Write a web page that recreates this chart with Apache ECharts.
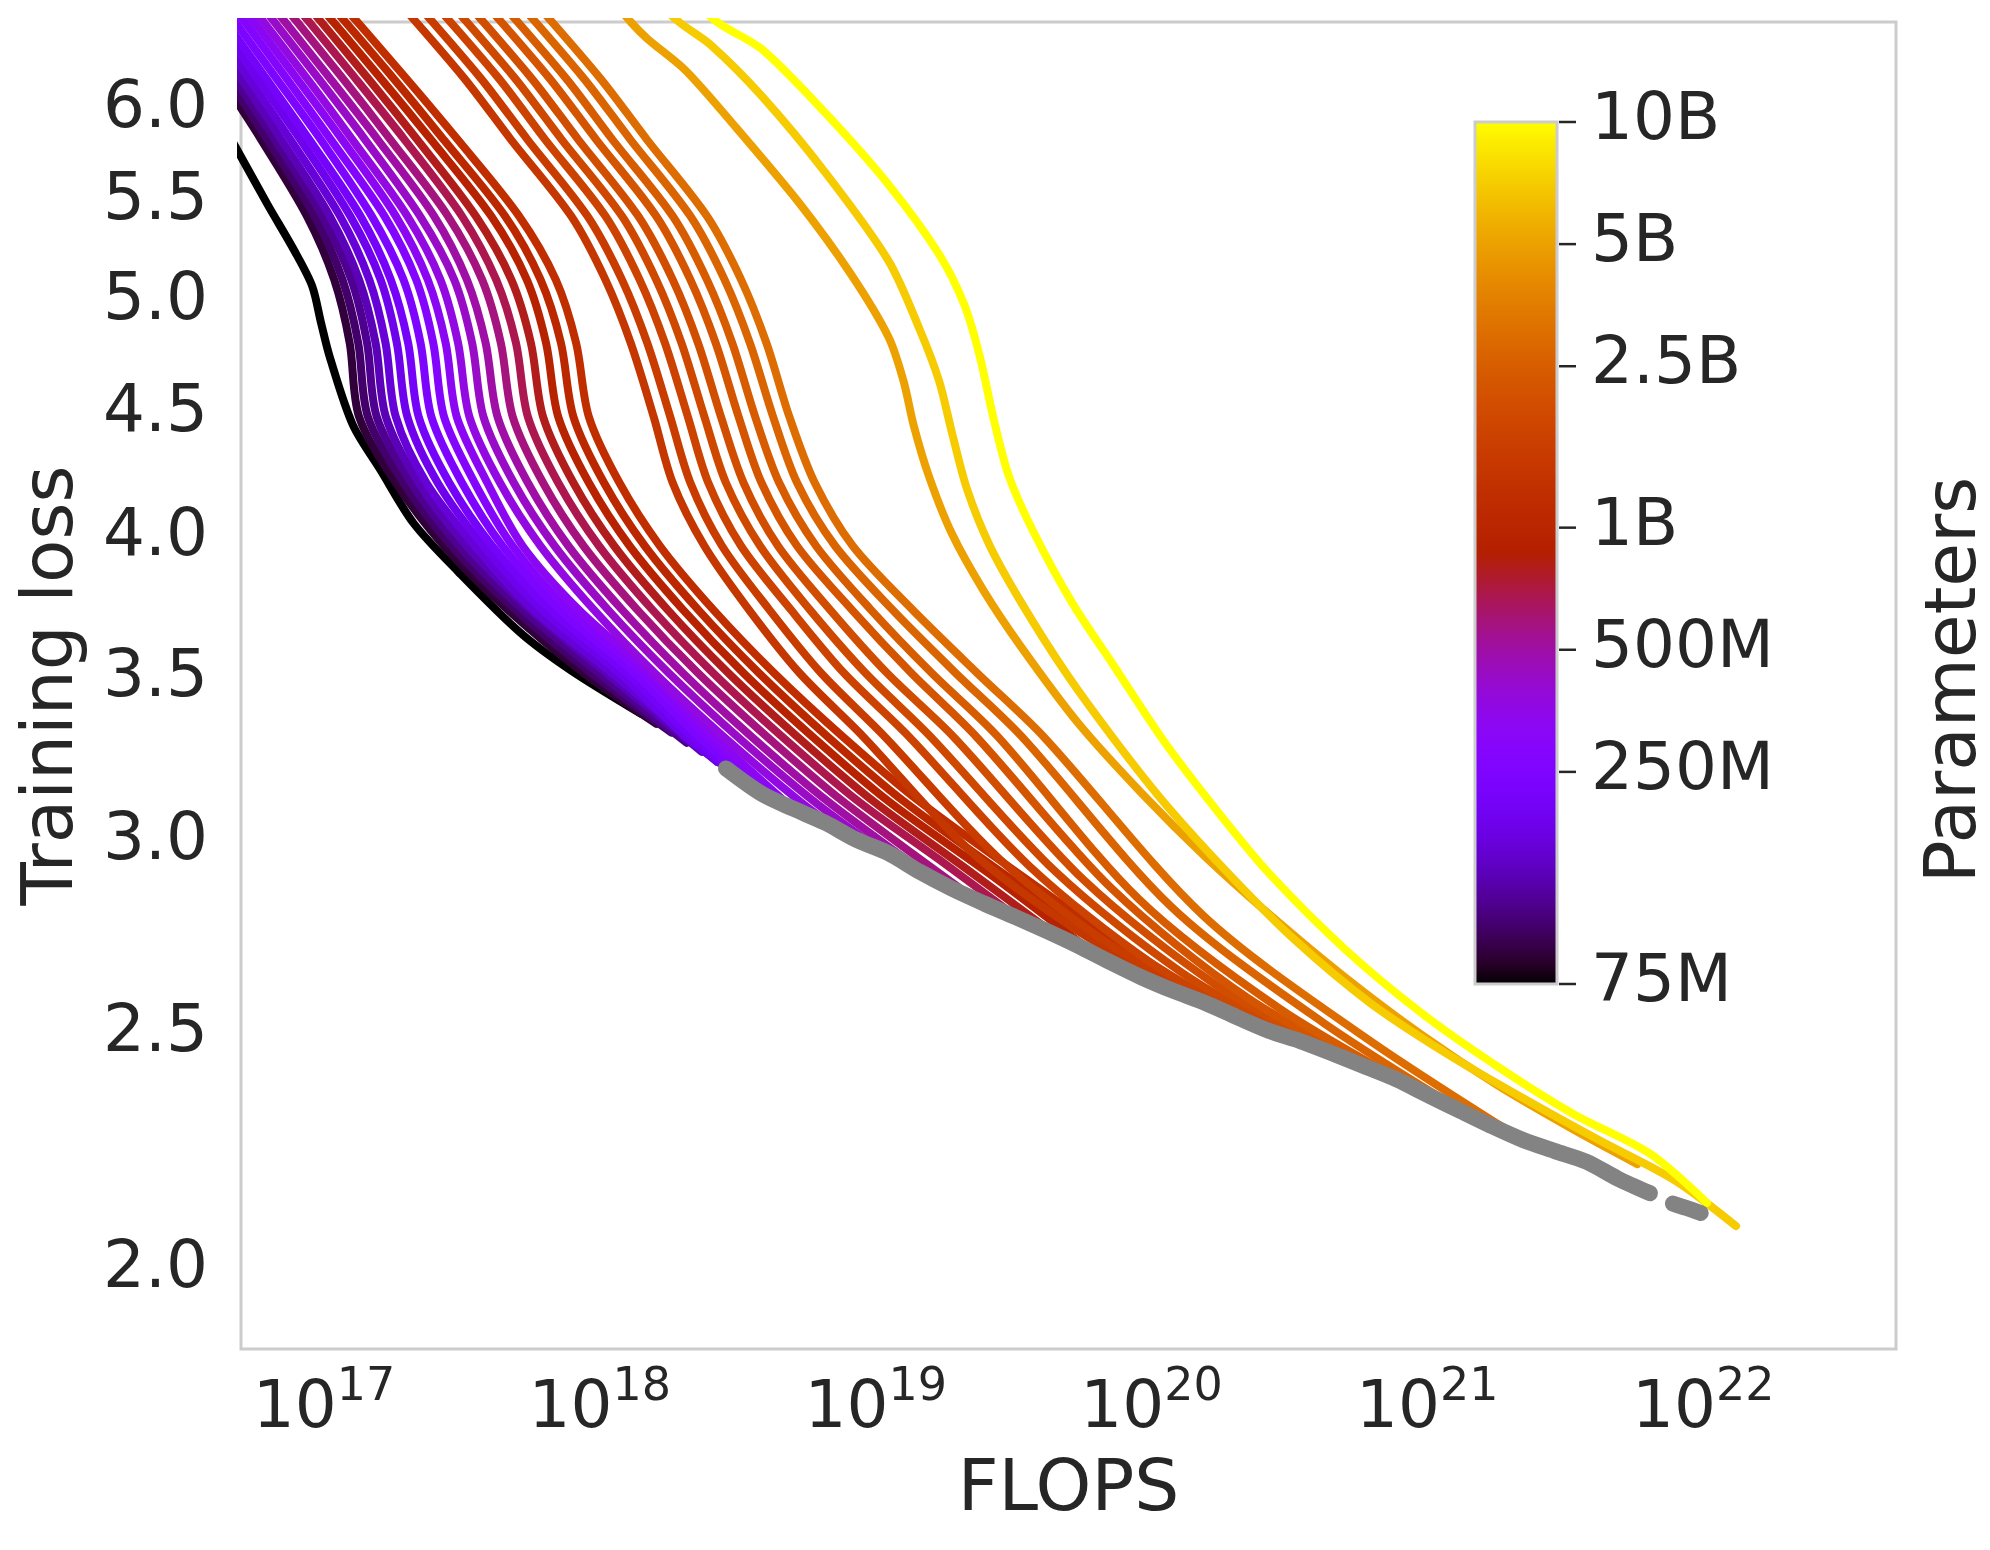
<!DOCTYPE html>
<html>
<head>
<meta charset="utf-8">
<title>Training loss vs FLOPS</title>
<script src="https://cdn.jsdelivr.net/npm/echarts@6/dist/echarts.min.js"></script>
</head>
<body style="margin:0;background:#fff">
<div id="chart" style="width:1990px;height:1550px"></div>
<script>
// parameter count of every run, smallest model first
const modelSizes = [75e6, 90e6, 105e6, 120e6, 140e6, 165e6, 190e6, 215e6, 245e6, 280e6, 320e6,
  370e6, 430e6, 500e6, 580e6, 680e6, 800e6, 920e6, 1050e6, 1200e6,
  1400e6, 1550e6, 1700e6, 1850e6, 2000e6, 2200e6, 2450e6, 2700e6, 3000e6,
  5000e6, 7000e6, 10000e6];

// training curves, points are [log10(FLOPs), training loss]
const r75M = [[16.538,6.19],[16.699,5.739],[16.796,5.483],[16.892,5.251],[16.957,5.077],[16.989,4.904],[17.021,4.746],[17.104,4.453],[17.205,4.265],[17.325,4.055],[17.486,3.874],[17.711,3.657],[17.895,3.528],[18.149,3.386]];
const r90M = [[16.386,6.82],[16.625,6.19],[16.773,5.83],[16.938,5.425],[17.037,5.108],[17.093,4.81],[17.127,4.486],[17.260,4.214],[17.435,3.969],[17.665,3.737],[17.941,3.519],[18.204,3.354]];
const r105M = [[16.405,6.82],[16.648,6.19],[16.796,5.83],[16.966,5.425],[17.067,5.108],[17.124,4.81],[17.159,4.486],[17.288,4.214],[17.463,3.969],[17.693,3.737],[17.969,3.519],[18.259,3.326]];
const r120M = [[16.423,6.82],[16.671,6.19],[16.823,5.83],[16.994,5.425],[17.099,5.108],[17.156,4.81],[17.191,4.486],[17.316,4.214],[17.490,3.969],[17.720,3.737],[17.997,3.519],[18.315,3.294]];
const r140M = [[16.441,6.82],[16.694,6.19],[16.846,5.83],[17.021,5.425],[17.127,5.108],[17.187,4.81],[17.224,4.486],[17.343,4.214],[17.518,3.969],[17.748,3.737],[18.024,3.519],[18.370,3.266]];
const r165M = [[16.464,6.82],[16.722,6.19],[16.879,5.83],[17.058,5.425],[17.164,5.108],[17.223,4.81],[17.260,4.486],[17.371,4.214],[17.546,3.969],[17.757,3.737],[18.043,3.519],[18.425,3.235]];
const r190M = [[16.492,6.82],[16.754,6.19],[16.915,5.83],[17.095,5.425],[17.205,5.108],[17.264,4.81],[17.302,4.486],[17.412,4.214],[17.578,3.969],[17.789,3.737],[18.071,3.519],[18.310,3.314],[18.480,3.204]];
const r215M = [[16.520,6.82],[16.786,6.19],[16.948,5.83],[17.132,5.425],[17.242,5.108],[17.305,4.81],[17.343,4.486],[17.454,4.214],[17.610,3.969],[17.821,3.737],[18.098,3.519],[18.333,3.314],[18.536,3.170]];
const r245M = [[16.552,6.82],[16.823,6.19],[16.989,5.83],[17.173,5.425],[17.288,5.108],[17.350,4.81],[17.389,4.486],[17.500,4.214],[17.647,3.969],[17.854,3.737],[18.126,3.519],[18.356,3.314],[18.591,3.139]];
const r280M = [[16.584,6.82],[16.860,6.19],[17.026,5.83],[17.219,5.425],[17.334,5.108],[17.396,4.81],[17.435,4.486],[17.546,4.214],[17.684,3.969],[17.886,3.737],[18.153,3.519],[18.384,3.314],[18.646,3.116]];
const r320M = [[16.616,6.82],[16.897,6.19],[17.067,5.83],[17.260,5.425],[17.376,5.108],[17.441,4.81],[17.481,4.486],[17.592,4.214],[17.720,3.969],[17.923,3.737],[18.181,3.519],[18.411,3.314],[18.701,3.094]];
const r370M = [[16.648,6.82],[16.934,6.19],[17.104,5.83],[17.302,5.425],[17.422,5.108],[17.486,4.81],[17.527,4.486],[17.638,4.214],[17.785,3.969],[17.978,3.737],[18.199,3.519],[18.448,3.314],[18.724,3.117],[18.862,3.035]];
const r430M = [[16.685,6.82],[16.975,6.19],[17.150,5.83],[17.348,5.425],[17.472,5.108],[17.537,4.81],[17.578,4.486],[17.688,4.214],[17.836,3.969],[18.029,3.737],[18.250,3.519],[18.498,3.314],[18.775,3.117],[19.000,2.985]];
const r500M = [[16.722,6.82],[17.017,6.19],[17.196,5.83],[17.399,5.425],[17.518,5.108],[17.586,4.81],[17.629,4.486],[17.739,4.214],[17.886,3.969],[18.080,3.737],[18.301,3.519],[18.549,3.314],[18.825,3.117],[19.170,2.917]];
const r580M = [[16.763,6.82],[17.063,6.19],[17.242,5.83],[17.449,5.425],[17.573,5.108],[17.641,4.81],[17.684,4.486],[17.794,4.214],[17.941,3.969],[18.135,3.737],[18.356,3.519],[18.605,3.314],[18.880,3.117],[19.341,2.851]];
const r680M = [[16.805,6.82],[17.109,6.19],[17.293,5.83],[17.500,5.425],[17.624,5.108],[17.696,4.81],[17.739,4.486],[17.849,4.214],[17.997,3.969],[18.190,3.737],[18.411,3.519],[18.660,3.314],[18.936,3.117],[19.230,2.949],[19.511,2.793]];
const r800M = [[16.846,6.82],[17.155,6.19],[17.339,5.83],[17.550,5.425],[17.679,5.108],[17.750,4.81],[17.794,4.486],[17.904,4.214],[18.052,3.969],[18.245,3.737],[18.466,3.519],[18.715,3.314],[18.991,3.117],[19.322,2.927],[19.663,2.740]];
const r920M = [[16.888,6.82],[17.201,6.19],[17.389,5.83],[17.606,5.425],[17.735,5.108],[17.805,4.81],[17.849,4.486],[17.960,4.214],[18.108,3.969],[18.301,3.737],[18.521,3.519],[18.770,3.314],[19.046,3.117],[19.437,2.896],[19.828,2.678]];
const r1050M = [[16.929,6.82],[17.247,6.19],[17.435,5.83],[17.656,5.425],[17.785,5.108],[17.859,4.81],[17.904,4.486],[18.015,4.214],[18.163,3.969],[18.356,3.737],[18.577,3.519],[18.825,3.314],[19.101,3.117],[19.552,2.862],[20.022,2.621]];
const r1200M = [[16.971,6.82],[17.293,6.19],[17.486,5.83],[17.707,5.425],[17.840,5.108],[17.914,4.81],[17.960,4.486],[18.071,4.214],[18.218,3.969],[18.411,3.737],[18.632,3.519],[18.880,3.314],[19.157,3.117],[19.667,2.831],[20.192,2.574]];
const r1400M = [[17.182,6.82],[17.504,6.19],[17.679,5.83],[17.896,5.425],[18.020,5.108],[18.112,4.81],[18.195,4.486],[18.264,4.214],[18.379,3.969],[18.540,3.737],[18.724,3.519],[18.954,3.314],[19.336,2.978],[19.723,2.761],[20.104,2.606]];
const r1550M = [[17.242,6.82],[17.564,6.19],[17.739,5.83],[17.955,5.425],[18.080,5.108],[18.172,4.81],[18.255,4.486],[18.328,4.214],[18.443,3.969],[18.614,3.737],[18.802,3.519],[19.032,3.314],[19.451,2.949],[19.870,2.711],[20.289,2.553]];
const r1700M = [[17.306,6.82],[17.629,6.19],[17.803,5.83],[18.020,5.425],[18.144,5.108],[18.236,4.81],[18.319,4.486],[18.393,4.214],[18.512,3.969],[18.692,3.737],[18.885,3.519],[19.120,3.314],[19.557,2.931],[19.990,2.678],[20.427,2.507]];
const r1850M = [[17.366,6.82],[17.688,6.19],[17.863,5.83],[18.080,5.425],[18.204,5.108],[18.296,4.81],[18.379,4.486],[18.457,4.214],[18.581,3.969],[18.761,3.737],[18.963,3.519],[19.198,3.314],[19.654,2.914],[20.109,2.650],[20.565,2.474]];
const r2000M = [[17.426,6.82],[17.748,6.19],[17.923,5.83],[18.139,5.425],[18.264,5.108],[18.356,4.81],[18.439,4.486],[18.521,4.214],[18.646,3.969],[18.834,3.737],[19.041,3.519],[19.281,3.314],[19.755,2.892],[20.229,2.621],[20.703,2.442]];
const r2200M = [[17.491,6.82],[17.813,6.19],[17.988,5.83],[18.204,5.425],[18.328,5.108],[18.420,4.81],[18.503,4.486],[18.586,4.214],[18.715,3.969],[18.913,3.737],[19.129,3.519],[19.364,3.314],[19.856,2.869],[20.348,2.587],[20.841,2.407]];
const r2450M = [[17.550,6.82],[17.873,6.19],[18.047,5.83],[18.264,5.425],[18.388,5.108],[18.480,4.81],[18.563,4.486],[18.650,4.214],[18.784,3.969],[18.982,3.737],[19.203,3.519],[19.442,3.314],[19.953,2.841],[20.468,2.559],[20.979,2.367]];
const r2700M = [[17.615,6.82],[17.937,6.19],[18.112,5.83],[18.328,5.425],[18.452,5.108],[18.544,4.81],[18.628,4.486],[18.715,4.214],[18.853,3.969],[19.060,3.737],[19.290,3.519],[19.529,3.314],[20.072,2.820],[20.620,2.528],[21.163,2.311]];
const r3000M = [[17.675,6.82],[17.997,6.19],[18.172,5.83],[18.388,5.425],[18.512,5.108],[18.604,4.81],[18.687,4.486],[18.779,4.214],[18.917,3.969],[19.133,3.737],[19.368,3.519],[19.608,3.314],[20.187,2.797],[20.767,2.495],[21.347,2.261]];
const r5B = [[17.988,6.776],[18.112,6.52],[18.172,6.418],[18.310,6.229],[18.494,5.899],[18.724,5.49],[18.908,5.139],[19.046,4.839],[19.101,4.64],[19.138,4.448],[19.193,4.24],[19.276,4.016],[19.391,3.805],[19.529,3.605],[19.736,3.354],[19.966,3.139],[20.196,2.956],[20.427,2.80],[20.703,2.637],[20.979,2.498],[21.255,2.381],[21.531,2.283],[21.761,2.21]];
const r7B = [[18.126,6.776],[18.287,6.52],[18.402,6.38],[18.586,6.08],[18.816,5.656],[19.046,5.201],[19.161,4.868],[19.230,4.64],[19.276,4.421],[19.331,4.189],[19.414,3.969],[19.529,3.76],[19.690,3.519],[19.874,3.294],[20.058,3.101],[20.288,2.903],[20.518,2.734],[20.794,2.574],[21.070,2.454],[21.346,2.353],[21.622,2.261],[21.898,2.176],[22.119,2.084]];
const r10B = [[18.264,6.776],[18.425,6.52],[18.586,6.356],[18.816,5.984],[19.046,5.59],[19.230,5.232],[19.322,4.986],[19.377,4.752],[19.428,4.475],[19.483,4.24],[19.575,4.016],[19.713,3.76],[19.865,3.541],[20.049,3.294],[20.243,3.083],[20.427,2.91],[20.703,2.708],[20.979,2.55],[21.255,2.424],[21.531,2.317],[21.807,2.232],[22.014,2.13]];

const runs = [r75M, r90M, r105M, r120M, r140M, r165M, r190M, r215M, r245M, r280M, r320M,
  r370M, r430M, r500M, r580M, r680M, r800M, r920M, r1050M, r1200M,
  r1400M, r1550M, r1700M, r1850M, r2000M, r2200M, r2450M, r2700M, r3000M,
  r5B, r7B, r10B];

// lowest loss reached for a given compute (grey dots), [log10(FLOPs), loss]
const envelope = [[18.457,3.215],[18.586,3.139],[18.700,3.095],[18.816,3.054],[18.93,3.005],[19.046,2.967],[19.16,2.915],[19.276,2.869],[19.39,2.83],[19.506,2.793],[19.62,2.756],[19.736,2.717],[19.85,2.676],[19.966,2.637],[20.08,2.604],[20.196,2.574],[20.31,2.54],[20.427,2.507],[20.54,2.483],[20.657,2.454],[20.77,2.425],[20.887,2.395],[21.0,2.36],[21.117,2.325],[21.23,2.292],[21.347,2.261],[21.46,2.238],[21.577,2.215],[21.69,2.18],[21.807,2.150]];
const envelopeTail = [[21.890,2.129],[21.94,2.12],[21.991,2.11]];

const lossTicks = [2.0, 2.5, 3.0, 3.5, 4.0, 4.5, 5.0, 5.5, 6.0];
const flopsTicks = [1e17, 1e18, 1e19, 1e20, 1e21, 1e22];
const sizeTicks = [75e6, 250e6, 500e6, 1e9, 2.5e9, 5e9, 10e9];
const sizeTickLabels = ['75M', '250M', '500M', '1B', '2.5B', '5B', '10B'];

const FONT = 'DejaVu Sans';
const INK = '#262626';
const cbMin = 75e6, cbMax = 10e9;

// matplotlib "gnuplot" colormap
function gnuplot(t) {
  const r = Math.sqrt(t), g = t * t * t, b = Math.max(0, Math.sin(2 * Math.PI * t));
  return 'rgb(' + [r, g, b].map(v => Math.round(Math.min(1, v) * 255)).join(',') + ')';
}
const sizeToT = n => Math.log(n / cbMin) / Math.log(cbMax / cbMin);

const toPoints = arr => arr.map(p => [Math.pow(10, p[0]), p[1]]);

const series = runs.map((run, i) => ({
  type: 'line',
  data: toPoints(run),
  symbol: 'none',
  smooth: 0.3,
  clip: true,
  lineStyle: { width: 8, color: gnuplot(sizeToT(modelSizes[i])), cap: 'round', join: 'round' },
  z: 2,
  silent: true
}));

[envelope, envelopeTail].forEach(part => series.push({
  type: 'line',
  data: toPoints(part),
  symbol: 'none',
  smooth: 0.3,
  lineStyle: { width: 16, color: '#838383', cap: 'round', join: 'round' },
  z: 3,
  silent: true
}));

const gradStops = [];
for (let k = 0; k <= 40; k++) gradStops.push({ offset: k / 40, color: gnuplot(k / 40) });

// colour bar: gradient rectangle plus its tick marks, placed through the bar's log axis
series.push({
  type: 'custom',
  xAxisIndex: 1,
  yAxisIndex: 1,
  data: [[0, cbMin, cbMax]],
  silent: true,
  renderItem: (params, api) => {
    const lo = api.coord([0, api.value(1)]);
    const hi = api.coord([1, api.value(2)]);
    const children = [{
      type: 'rect',
      shape: { x: lo[0], y: hi[1], width: hi[0] - lo[0], height: lo[1] - hi[1] },
      style: {
        fill: new echarts.graphic.LinearGradient(0, 1, 0, 0, gradStops),
        stroke: '#cccccc',
        lineWidth: 3
      }
    }];
    sizeTicks.forEach(s => {
      const p = api.coord([1, s]);
      children.push({
        type: 'line',
        shape: { x1: p[0] + 2, y1: p[1], x2: p[0] + 19, y2: p[1] },
        style: { stroke: INK, lineWidth: 2.5 }
      });
    });
    return { type: 'group', children };
  }
});

const chart = echarts.init(document.getElementById('chart'), null, { renderer: 'canvas' });
chart.setOption({
  animation: false,
  backgroundColor: '#ffffff',
  grid: [
    { left: 241, top: 22, width: 1655, height: 1327, show: true, borderColor: '#cccccc', borderWidth: 3, outerBoundsMode: 'none' },
    { left: 1475, top: 122, width: 82, height: 862, outerBoundsMode: 'none' }
  ],
  xAxis: [
    {
      type: 'log', gridIndex: 0, min: 5e16, max: 5e22,
      name: 'FLOPS', nameLocation: 'middle', nameGap: 107,
      nameTextStyle: { fontSize: 71, color: INK, fontFamily: FONT },
      axisLine: { show: false }, axisTick: { show: false }, splitLine: { show: false },
      axisLabel: {
        customValues: flopsTicks,
        margin: 16,
        formatter: v => '{b|10}{e|' + Math.round(Math.log10(v)) + '}',
        rich: {
          b: { fontSize: 66, lineHeight: 78, verticalAlign: 'bottom', color: INK, fontFamily: FONT },
          e: { fontSize: 46, lineHeight: 46, verticalAlign: 'top', color: INK, fontFamily: FONT }
        }
      }
    },
    { type: 'value', gridIndex: 1, min: 0, max: 1, show: false }
  ],
  yAxis: [
    {
      type: 'log', gridIndex: 0, min: 1.855, max: 6.52,
      name: 'Training loss', nameLocation: 'middle', nameGap: 152, nameRotate: 90,
      nameTextStyle: { fontSize: 71, color: INK, fontFamily: FONT },
      axisLine: { show: false }, axisTick: { show: false }, splitLine: { show: false },
      axisLabel: {
        customValues: lossTicks,
        margin: 33,
        fontSize: 66, color: INK, fontFamily: FONT,
        formatter: v => v.toFixed(1)
      }
    },
    {
      type: 'log', gridIndex: 1, min: cbMin, max: cbMax, position: 'right',
      axisLine: { show: false }, splitLine: { show: false }, axisTick: { show: false },
      axisLabel: {
        customValues: sizeTicks,
        margin: 34,
        fontSize: 66, color: INK, fontFamily: FONT,
        formatter: v => {
          let best = 0;
          sizeTicks.forEach((s, i) => { if (Math.abs(Math.log(s / v)) < Math.abs(Math.log(sizeTicks[best] / v))) best = i; });
          return sizeTickLabels[best];
        }
      }
    }
  ],
  graphic: [{
    type: 'text',
    x: 1957, y: 680,
    rotation: Math.PI / 2,
    style: { text: 'Parameters', fontSize: 71, fill: INK, fontFamily: FONT, align: 'center', verticalAlign: 'middle' }
  }],
  series: series
});
</script>
</body>
</html>
